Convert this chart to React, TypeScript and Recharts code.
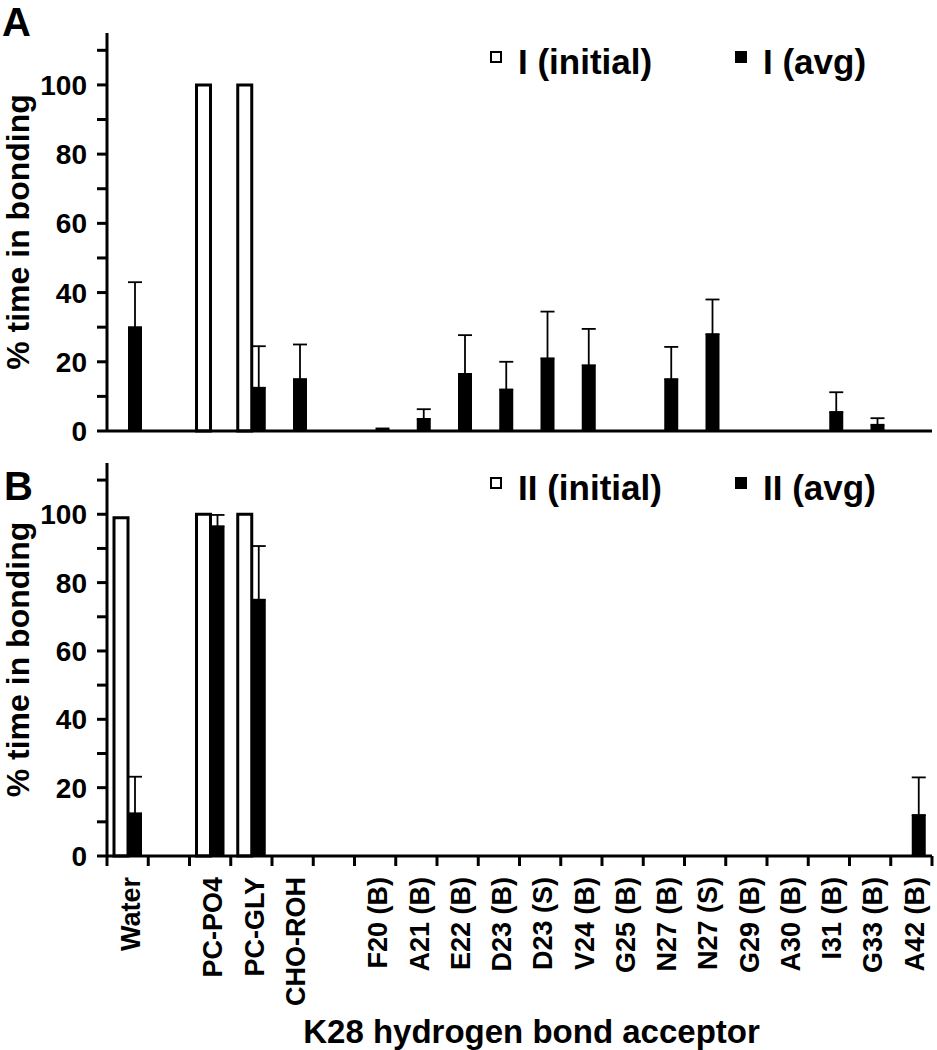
import { BarChart, Bar, XAxis, YAxis, ErrorBar, Legend } from 'recharts'

// K28 hydrogen bond acceptors (blank slots are spacer columns)
const categories = [
  'Water', ' ', 'PC-PO4', 'PC-GLY', 'CHO-ROH', '  ',
  'F20 (B)', 'A21 (B)', 'E22 (B)', 'D23 (B)', 'D23 (S)', 'V24 (B)', 'G25 (B)',
  'N27 (B)', 'N27 (S)', 'G29 (B)', 'A30 (B)', 'I31 (B)', 'G33 (B)', 'A42 (B)',
]

// panel A
const initialI = [0, null, 100, 100, 0, null, 0, 0, 0, 0, 0, 0, 0, 0, 0, 0, 0, 0, 0, 0]
const avgI = [30, null, 0, 12.5, 15, null, 1, 3.5, 16.5, 12, 21, 19, 0, 15, 28, 0, 0, 5.5, 1.8, 0]
const errI = [13, null, null, 12, 10, null, null, 2.8, 11.2, 8, 13.5, 10.5, null, 9.3, 10, null, null, 5.7, 1.9, null]

// panel B
const initialII = [99, null, 100, 100, 0, null, 0, 0, 0, 0, 0, 0, 0, 0, 0, 0, 0, 0, 0, 0]
const avgII = [12.5, null, 96.5, 75, 0, null, 0, 0, 0, 0, 0, 0, 0, 0, 0, 0, 0, 0, 0, 12]
const errII = [10.7, null, 3.3, 15.7, null, null, null, null, null, null, null, null, null, null, null, null, null, null, null, 11]

const yTicks = [0, 10, 20, 30, 40, 50, 60, 70, 80, 90, 100, 110]

const FONT = '"Liberation Sans", Arial, Helvetica, sans-serif'
const WIDTH = 937
const AXIS_W = 107
const RIGHT = 5
const BAND = (WIDTH - AXIS_W - RIGHT) / categories.length
const line = { stroke: '#000', strokeWidth: 3 }

const buildRows = (initial: (number | null)[], avg: (number | null)[], err: (number | null)[]) =>
  categories.map((name, i) => ({
    name,
    initial: initial[i],
    avg: avg[i],
    err: err[i] == null ? null : [0, err[i]],
  }))

const rowsI = buildRows(initialI, avgI, errI)
const rowsII = buildRows(initialII, avgII, errII)

function AcceptorTick(props: any) {
  const { x, y, payload, index } = props
  const ty = y + 21
  return (
    <g>
      <line x1={x - BAND / 2} x2={x - BAND / 2} y1={y} y2={y + 10} {...line} />
      {index === categories.length - 1 && (
        <line x1={x + BAND / 2} x2={x + BAND / 2} y1={y} y2={y + 10} {...line} />
      )}
      <text
        x={x}
        y={ty}
        dy="0.45em"
        transform={`rotate(-90 ${x} ${ty})`}
        textAnchor="end"
        fill="#000"
        fontSize={27}
        fontWeight={700}
        fontFamily={FONT}
      >
        {payload.value}
      </text>
    </g>
  )
}

function LegendBox({ payload }: any) {
  const items = [...(payload || [])].sort((a: any, b: any) => (a.dataKey === 'initial' ? -1 : b.dataKey === 'initial' ? 1 : 0))
  return (
    <div style={{ display: 'flex', alignItems: 'center', fontFamily: FONT, fontWeight: 700, fontSize: 35, lineHeight: '38px', color: '#000' }}>
      {items.map((entry: any, i: number) => (
        <div key={i} style={{ display: 'flex', alignItems: 'center', width: i === 0 ? 245 : 'auto' }}>
          <span
            style={{
              display: 'inline-block',
              boxSizing: 'border-box',
              width: 12,
              height: 12,
              border: '2.5px solid #000',
              background: entry.dataKey === 'initial' ? '#fff' : '#000',
              position: 'relative',
              top: -5,
              marginRight: 16,
            }}
          />
          <span>{entry.value}</span>
        </div>
      ))}
    </div>
  )
}

interface PanelProps {
  rows: any[]
  height: number
  marginTop: number
  marginBottom: number
  names: [string, string]
  legendTop: number
  bottom: boolean
}

function Panel({ rows, height, marginTop, marginBottom, names, legendTop, bottom }: PanelProps) {
  return (
    <BarChart
      width={WIDTH}
      height={height}
      data={rows}
      margin={{ top: marginTop, right: RIGHT, bottom: marginBottom, left: 0 }}
      barSize={14}
      barGap={0}
    >
      <XAxis xAxisId="top" dataKey="name" orientation="top" height={0} tick={false} tickLine={false} axisLine={line} />
      {bottom ? (
        <XAxis
          dataKey="name"
          height={194}
          interval={0}
          tickSize={0}
          tickMargin={0}
          tickLine={false}
          axisLine={line}
          tick={<AcceptorTick />}
          label={{
            value: 'K28 hydrogen bond acceptor',
            position: 'insideBottom',
            offset: 7,
            dx: 12,
            style: { fontSize: 33, fontWeight: 700, fill: '#000', fontFamily: FONT },
          }}
        />
      ) : (
        <XAxis dataKey="name" height={1} tick={false} tickLine={false} axisLine={line} />
      )}
      <YAxis
        width={AXIS_W}
        domain={[0, 115]}
        ticks={yTicks}
        interval={0}
        tickSize={10}
        tickMargin={10}
        tickLine={line}
        axisLine={line}
        tickFormatter={(v: number) => (v % 20 === 0 ? String(v) : '')}
        tick={{ fill: '#000', fontSize: 28, fontWeight: 700, fontFamily: FONT }}
        label={{
          value: '% time in bonding',
          angle: -90,
          position: 'insideLeft',
          offset: 18,
          style: { textAnchor: 'middle', fontSize: 32, fontWeight: 700, fill: '#000', fontFamily: FONT },
        }}
      />
      <YAxis yAxisId="right" orientation="right" width={0} domain={[0, 115]} tick={false} tickLine={false} axisLine={line} />
      <Legend
        layout="horizontal"
        verticalAlign="middle"
        align="center"
        content={<LegendBox />}
        wrapperStyle={{ top: legendTop, left: 490, width: 'auto', height: 'auto' }}
      />
      <Bar dataKey="initial" name={names[0]} fill="#fff" stroke="#000" strokeWidth={3} isAnimationActive={false} />
      <Bar dataKey="avg" name={names[1]} fill="#000" isAnimationActive={false}>
        <ErrorBar dataKey="err" direction="y" width={7} stroke="#000" strokeWidth={1.8} isAnimationActive={false} />
      </Bar>
    </BarChart>
  )
}

const letter = { position: 'absolute' as const, fontFamily: FONT, fontWeight: 700, fontSize: 40, lineHeight: '45px', color: '#000' }

export default function App() {
  return (
    <div style={{ position: 'absolute', left: 0, top: 0, width: WIDTH, height: 1050, background: '#fff' }}>
      <div style={{ position: 'absolute', left: 0, top: 0 }}>
        <Panel rows={rowsI} height={460} marginTop={33} marginBottom={28} names={['I (initial)', 'I (avg)']} legendTop={43} bottom={false} />
      </div>
      <div style={{ position: 'absolute', left: 0, top: 440 }}>
        <Panel rows={rowsII} height={610} marginTop={23} marginBottom={0} names={['II (initial)', 'II (avg)']} legendTop={29} bottom={true} />
      </div>
      <div style={{ ...letter, left: 2, top: 0 }}>A</div>
      <div style={{ ...letter, left: 4, top: 464 }}>B</div>
    </div>
  )
}
